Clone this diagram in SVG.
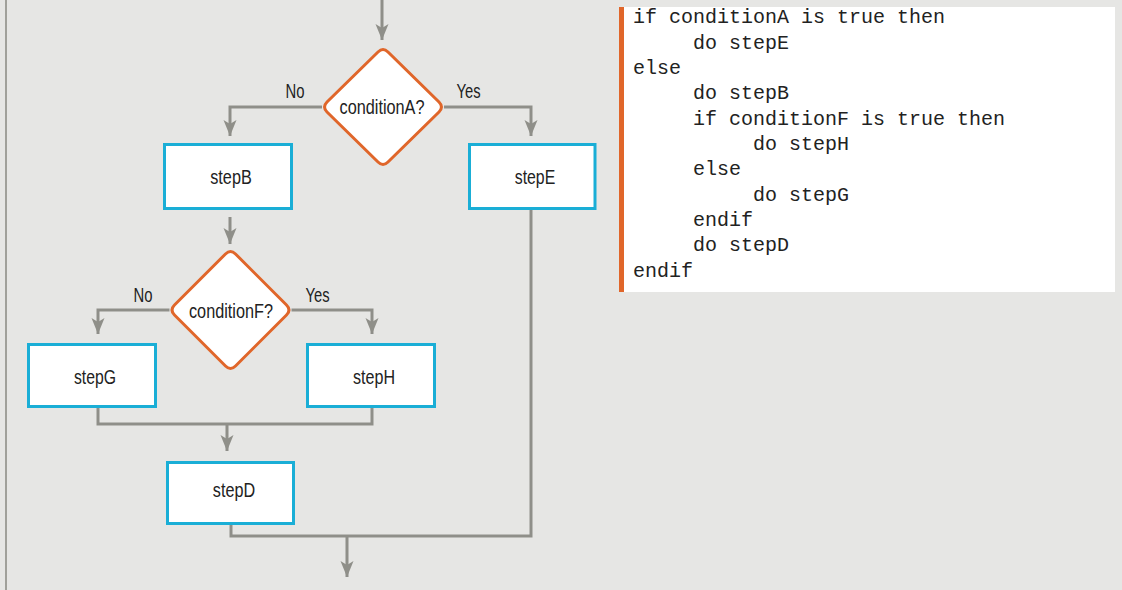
<svg xmlns="http://www.w3.org/2000/svg" width="1122" height="590" viewBox="0 0 1122 590">
<defs>
<marker id="arr" markerUnits="userSpaceOnUse" viewBox="0 -8 17 16" refX="16" refY="0" markerWidth="17" markerHeight="16" orient="auto">
<path d="M0,-6.5 L16,0 L0,6.5 L4,0 Z" fill="#8f8f89"/>
</marker>
</defs>
<style>
.bg{fill:#e6e6e4}
.conn{fill:none;stroke:#8f8f89;stroke-width:3}
.box{fill:#ffffff;stroke:#1aaed6;stroke-width:3}
.dia{fill:#ffffff;stroke:#e0662a;stroke-width:3;stroke-linejoin:round}
.lbl{font-family:"Liberation Sans Narrow","Arial Narrow","Liberation Sans",sans-serif;font-size:19.5px;fill:#222;text-anchor:middle}
.code{font-family:"Liberation Mono","Courier New",monospace;font-size:20px;fill:#222}
</style>
<rect class="bg" x="0" y="0" width="1122" height="590"/>
<rect x="5" y="0" width="2" height="590" fill="#a0a09a"/>
<g id="code-panel">
<rect x="619" y="7" width="496" height="285" fill="#ffffff"/>
<rect x="619" y="7" width="5" height="285" fill="#e0662a"/>
<text class="code" x="633" y="23.3">if conditionA is true then</text>
<text class="code" x="693" y="48.7">do stepE</text>
<text class="code" x="633" y="74">else</text>
<text class="code" x="693" y="99.3">do stepB</text>
<text class="code" x="693" y="124.7">if conditionF is true then</text>
<text class="code" x="753" y="150">do stepH</text>
<text class="code" x="693" y="175.3">else</text>
<text class="code" x="753" y="200.7">do stepG</text>
<text class="code" x="693" y="226">endif</text>
<text class="code" x="693" y="251.3">do stepD</text>
<text class="code" x="633" y="276.7">endif</text>
</g>
<g id="connectors">
<path class="conn" d="M382,0 V40" marker-end="url(#arr)"/>
<path class="conn" d="M322,107 H230 V136" marker-end="url(#arr)"/>
<path class="conn" d="M444,107 H531 V136" marker-end="url(#arr)"/>
<path class="conn" d="M230,217 V244" marker-end="url(#arr)"/>
<path class="conn" d="M169.5,310 H98 V334" marker-end="url(#arr)"/>
<path class="conn" d="M291.5,310 H372 V334" marker-end="url(#arr)"/>
<path class="conn" d="M98,408 V424 H372 V408"/>
<path class="conn" d="M227,424 V451" marker-end="url(#arr)"/>
<path class="conn" d="M231,525 V536 H531 V209"/>
<path class="conn" d="M347,536 V577" marker-end="url(#arr)"/>
<text class="lbl" x="295" y="98.3" textLength="19" lengthAdjust="spacingAndGlyphs">No</text>
<text class="lbl" x="468.5" y="98.3" textLength="24" lengthAdjust="spacingAndGlyphs">Yes</text>
<text class="lbl" x="143" y="301.7" textLength="19" lengthAdjust="spacingAndGlyphs">No</text>
<text class="lbl" x="317.5" y="301.7" textLength="24" lengthAdjust="spacingAndGlyphs">Yes</text>
</g>
<g id="conditionA">
<path class="dia" d="M378,52 Q383,47 388,52 L439,102 Q444,107 439,112 L388,162 Q383,167 378,162 L327,112 Q322,107 327,102 Z"/>
<text class="lbl" x="382" y="114" textLength="85" lengthAdjust="spacingAndGlyphs">conditionA?</text>
</g>
<g id="stepB">
<rect class="box" x="164.5" y="144.5" width="127" height="64"/>
<text class="lbl" x="231" y="184" textLength="41.5" lengthAdjust="spacingAndGlyphs">stepB</text>
</g>
<g id="stepE">
<rect class="box" x="469.5" y="144.5" width="125.5" height="64"/>
<text class="lbl" x="535" y="184" textLength="40.5" lengthAdjust="spacingAndGlyphs">stepE</text>
</g>
<g id="conditionF">
<path class="dia" d="M225.5,254 Q230.5,249 235.5,254 L286.5,305 Q291.5,310 286.5,315 L235.5,366 Q230.5,371 225.5,366 L174.5,315 Q169.5,310 174.5,305 Z"/>
<text class="lbl" x="231" y="318.3" textLength="84" lengthAdjust="spacingAndGlyphs">conditionF?</text>
</g>
<g id="stepG">
<rect class="box" x="28.5" y="344.5" width="127" height="62"/>
<text class="lbl" x="95" y="384" textLength="42" lengthAdjust="spacingAndGlyphs">stepG</text>
</g>
<g id="stepH">
<rect class="box" x="307.5" y="344.5" width="127" height="62"/>
<text class="lbl" x="374" y="383.5" textLength="42" lengthAdjust="spacingAndGlyphs">stepH</text>
</g>
<g id="stepD">
<rect class="box" x="167.5" y="462.5" width="126" height="61"/>
<text class="lbl" x="234" y="496.7" textLength="42.3" lengthAdjust="spacingAndGlyphs">stepD</text>
</g>
</svg>
